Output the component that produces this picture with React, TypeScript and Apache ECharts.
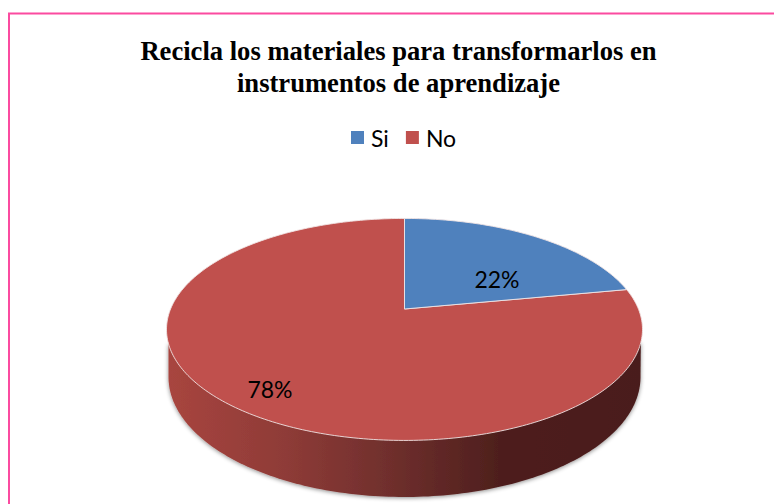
import React, { useEffect, useRef } from "react";
import * as echarts from "echarts";

const titleLines = ["Recicla los materiales para transformarlos en", "instrumentos de aprendizaje"];
const categories = ["Si", "No"];
const values = [22, 78];
const colors = ["#4F81BD", "#C0504D"];

const K = 0.184;
const SQ = Math.sqrt(1 - K * K);
const CX = 404.5;
const TOP = { apexY: 309, rx: 238, ry: 111 };
const BOTTOM = { rx: 236, ry: 120, centerY: 377 };
const CORNER_Y = 342;

function project(thetaDeg: number, cx: number, apexY: number, rx: number, ry: number): [number, number] {
  const t = (thetaDeg * Math.PI) / 180;
  const X = Math.sin(t);
  const Y = Math.cos(t);
  const d = 1 + K * Y;
  return [cx + (rx * SQ * X) / d, apexY - (ry * (1 - K * K) * Y) / d];
}
const topPoint = (a: number) => project(a, CX, TOP.apexY, TOP.rx, TOP.ry);
const bottomPoint = (a: number) => project(a, CX, BOTTOM.centerY - BOTTOM.ry * K, BOTTOM.rx, BOTTOM.ry);

function sweep(from: number, to: number) {
  const out: number[] = [];
  for (let a = from; a < to; a += 1) out.push(a);
  out.push(to);
  return out;
}

const total = values.reduce((s, v) => s + v, 0);
const labelOffsets = [
  [92.5, -30],
  [-134.5, 80],
];

function makeSeries(i: number) {
  const start = (values.slice(0, i).reduce((s, v) => s + v, 0) / total) * 360;
  const end = start + (values[i] / total) * 360;
  const wallFill = new echarts.graphic.LinearGradient(0, 0, 1, 0, [
    { offset: 0, color: "#A8453F" },
    { offset: 0.25, color: "#8E3B37" },
    { offset: 0.5, color: "#6B2D2B" },
    { offset: 0.7, color: "#4E1F1D" },
    { offset: 1, color: "#4A1C1A" },
  ]);
  return {
    type: "custom",
    name: categories[i],
    coordinateSystem: "none",
    silent: true,
    itemStyle: { color: colors[i] },
    data: [[start, end, values[i]]],
    renderItem: (_p: any, api: any) => {
      const a0 = api.value(0);
      const a1 = api.value(1);
      const angles = sweep(a0, a1);
      const children: any[] = [];
      const bottomArc = angles.map(bottomPoint).filter((p) => p[1] >= BOTTOM.centerY);
      if (bottomArc.length > 2) {
        const rim = angles.map(topPoint).filter((p) => p[1] >= CORNER_Y);
        const wall = [rim[0], ...bottomArc, rim[rim.length - 1]];
        children.push({
          type: "polygon",
          shape: { points: wall },
          style: { fill: wallFill, shadowBlur: 4, shadowColor: "rgba(0,0,0,0.45)", shadowOffsetY: 1 },
        });
      }
      children.push({
        type: "polygon",
        shape: { points: [[CX, TOP.apexY], ...angles.map(topPoint)] },
        style: { fill: colors[i], stroke: "#F0E4E4", lineWidth: 0.9, lineJoin: "round" },
      });
      children.push({
        type: "text",
        style: {
          x: CX + labelOffsets[i][0],
          y: TOP.apexY + labelOffsets[i][1],
          text: `${api.value(2)}%`,
          fill: "#000000",
          font: "23px Lato",
          align: "center",
          verticalAlign: "middle",
        },
      });
      return { type: "group", children };
    },
  };
}

export default function App() {
  const ref = useRef<HTMLDivElement>(null);
  useEffect(() => {
    const chart = echarts.init(ref.current!, undefined, { renderer: "svg" });
    chart.setOption({
      animation: false,
      backgroundColor: "#ffffff",
      title: {
        text: titleLines.join("\n"),
        left: 393.5,
        top: 30,
        textAlign: "center",
        textStyle: {
          fontFamily: "Liberation Serif",
          fontWeight: "bold",
          fontSize: 26.6,
          lineHeight: 32,
          color: "#000000",
        },
      },
      legend: {
        data: categories,
        left: 346,
        top: 121,
        icon: "rect",
        itemWidth: 13,
        itemHeight: 13,
        itemGap: 17,
        selectedMode: false,
        textStyle: { fontFamily: "Lato", fontSize: 23, color: "#000000", padding: [0, 0, 0, 2] },
      },
      graphic: [
        {
          type: "rect",
          z: -1,
          shape: { x: 9, y: 13.5, width: 800, height: 520 },
          style: { fill: "none", stroke: "#FB4BA0", lineWidth: 2 },
        },
      ],
      series: [makeSeries(1), makeSeries(0)],
    });
    return () => chart.dispose();
  }, []);
  return <div ref={ref} style={{ position: "fixed", left: 0, top: 0, width: 774, height: 504 }} />;
}
